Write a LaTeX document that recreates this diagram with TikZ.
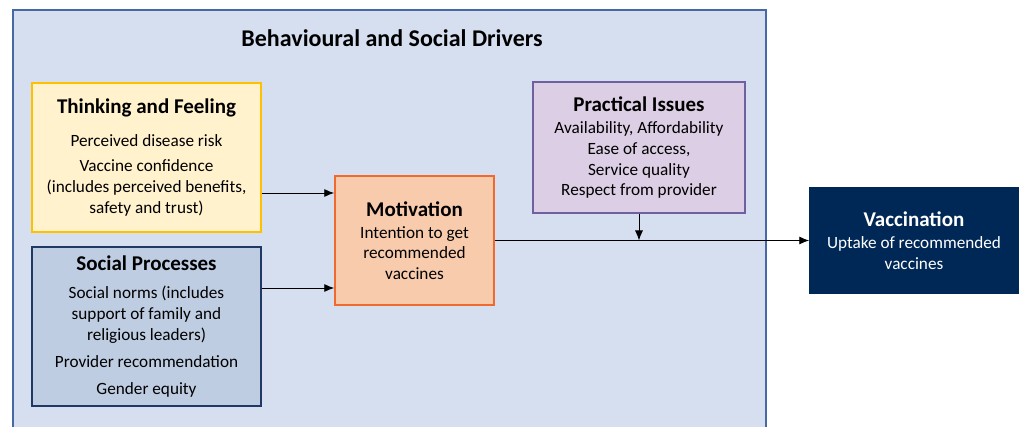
\documentclass[tikz,border=0pt]{standalone}
\usepackage{fontspec}
\setmainfont{Carlito}
\usetikzlibrary{positioning}
\usetikzlibrary{arrows.meta}
\definecolor{driversbg}{RGB}{214,223,240}
\definecolor{driversline}{RGB}{70,105,165}
\definecolor{thinkfill}{RGB}{255,242,204}
\definecolor{thinkline}{RGB}{255,192,0}
\definecolor{socialfill}{RGB}{191,205,227}
\definecolor{socialline}{RGB}{31,56,100}
\definecolor{motivfill}{RGB}{248,203,173}
\definecolor{motivline}{RGB}{240,105,45}
\definecolor{practfill}{RGB}{220,206,228}
\definecolor{practline}{RGB}{112,96,160}
\definecolor{vaccfill}{RGB}{0,40,86}
\newcommand{\boxhead}[1]{{\fontsize{21}{24}\selectfont\bfseries #1}}
\tikzstyle{block} = [rectangle, draw, line width=1.5pt, align=center, inner sep=0pt, font=\fontsize{17.2}{20.7}\selectfont]
\tikzstyle{line} = [draw, line width=0.9pt, -{Latex[length=10pt,width=8pt]}]

\begin{document}
\begin{tikzpicture}[x=1pt, y=-1pt]
    \useasboundingbox (0,0) rectangle (1021,427);
    \draw[fill=driversbg, draw=driversline, line width=1.3pt] (13,10) rectangle (766,445);
    \node[font=\fontsize{24}{28}\selectfont\bfseries] (TITLE) at (392,38) {Behavioural and Social Drivers};
    \node[block, fill=thinkfill, draw=thinkline, minimum width=229pt, minimum height=149pt] (THINK) at (146.5,157.5)
        {\boxhead{Thinking and Feeling}\\[12pt] Perceived disease risk\\[5pt] Vaccine confidence\\ (includes perceived benefits,\\ safety and trust)};
    \node[block, fill=socialfill, draw=socialline, minimum width=229pt, minimum height=159pt] (SOCIAL) at (146.5,326.5)
        {\boxhead{Social Processes}\\[8pt] Social norms (includes\\ support of family and\\ religious leaders)\\[6pt] Provider recommendation\\[7pt] Gender equity};
    \node[block, fill=motivfill, draw=motivline, minimum width=159pt, minimum height=129pt] (MOTIV) at (414.5,240.5)
        {\boxhead{Motivation}\\[1.5pt] Intention to get\\ recommended\\ vaccines};
    \node[block, fill=practfill, draw=practline, minimum width=212pt, minimum height=131pt] (PRACT) at (639,147.5)
        {\boxhead{Practical Issues}\\[2pt] Availability, Affordability\\ Ease of access,\\ Service quality\\ Respect from provider};
    \node[block, fill=vaccfill, draw=vaccfill, text=white, minimum width=208pt, minimum height=105pt] (VACC) at (914,240.5)
        {\boxhead{Vaccination}\\[1.5pt] Uptake of recommended\\ vaccines};
    \coordinate (JOIN) at (PRACT.south |- MOTIV.east);
    \path[line] (THINK.east |- 0,193) -- (MOTIV.west |- 0,193);
    \path[line] (SOCIAL.east |- 0,288) -- (MOTIV.west |- 0,288);
    \path[line] (MOTIV.east) -- (VACC.west);
    \path[line] (PRACT.south) -- (JOIN);
\end{tikzpicture}
\end{document}
